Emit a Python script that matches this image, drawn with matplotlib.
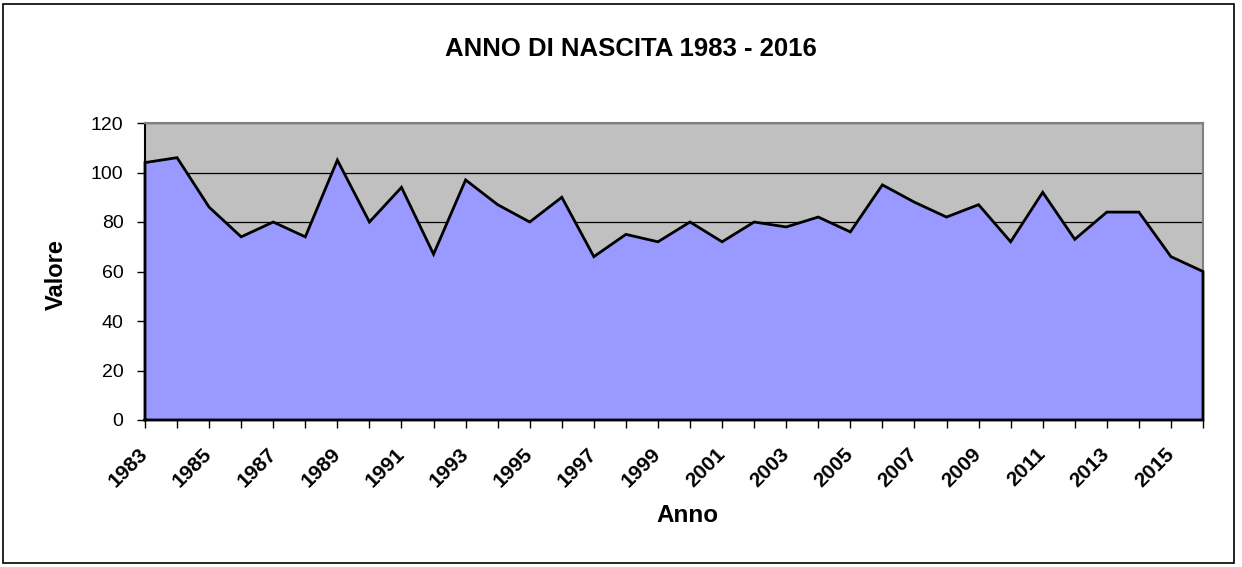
import matplotlib
matplotlib.use("Agg")
import matplotlib.pyplot as plt
from matplotlib.patches import Rectangle

plt.rcParams['font.family'] = ['Liberation Sans', 'DejaVu Sans']

years = list(range(1983, 2017))
values = [104, 106, 86, 74, 80, 74, 105, 80, 94, 67, 97, 87, 80, 90, 66, 75, 72, 80,
          72, 80, 78, 82, 76, 95, 88, 82, 87, 72, 92, 73, 84, 84, 66, 60]
yticks = [0, 20, 40, 60, 80, 100, 120]

W, H = 1242, 567
fig = plt.figure(figsize=(W / 100, H / 100), dpi=100)
ax = fig.add_axes([145 / W, 1 - 420 / H, (1203 - 145) / W, (420 - 123) / H])

# chart border
fig.patches.append(Rectangle((3 / W, 4 / H), (1234 - 3) / W, (563 - 4) / H,
                             transform=fig.transFigure, fill=False,
                             edgecolor='black', linewidth=1.2))

ax.set_facecolor('#C0C0C0')
ax.set_xlim(years[0], years[-1])
ax.set_ylim(0, 120)
ax.set_yticks(yticks)
ax.grid(axis='y', color='black', linewidth=0.9)
ax.set_axisbelow(True)

ax.fill_between(years, values, 0, facecolor='#9999FF', edgecolor='none', zorder=2)
xs = [years[0]] + years + [years[-1], years[0]]
ys = [0] + values + [0, 0]
ax.plot(xs, ys, color='black', linewidth=2.0, zorder=3, clip_on=False,
        solid_joinstyle='miter')

for s in ['top', 'right']:
    ax.spines[s].set_color('#808080')
    ax.spines[s].set_linewidth(1.5)
for s in ['left', 'bottom']:
    ax.spines[s].set_color('black')
    ax.spines[s].set_linewidth(1.5)

ax.set_xticks(years)
ax.set_xticklabels([str(y) if (y - 1983) % 2 == 0 else '' for y in years],
                   rotation=45, ha='right', va='center', rotation_mode='anchor',
                   fontsize=15, fontweight='bold')
ax.tick_params(axis='x', length=5.5, width=1, pad=17)
ax.tick_params(axis='y', length=5.5, width=1, labelsize=14, pad=10)

ax.set_xlabel('Anno', fontsize=17.5, fontweight='bold')
ax.xaxis.label.set_va('center')
ax.xaxis.set_label_coords((687 - 145) / 1058, (420 - 515) / 297)
ax.set_ylabel('Valore', fontsize=17, fontweight='bold')
ax.yaxis.label.set_va('center')
ax.yaxis.set_label_coords((56.5 - 145) / 1058, (420 - 275) / 297)
fig.text(631 / W, 1 - 48.5 / H, 'ANNO DI NASCITA 1983 - 2016', ha='center', va='center',
         fontsize=18.5, fontweight='bold')

fig.savefig('out.png', dpi=100, facecolor='white')
